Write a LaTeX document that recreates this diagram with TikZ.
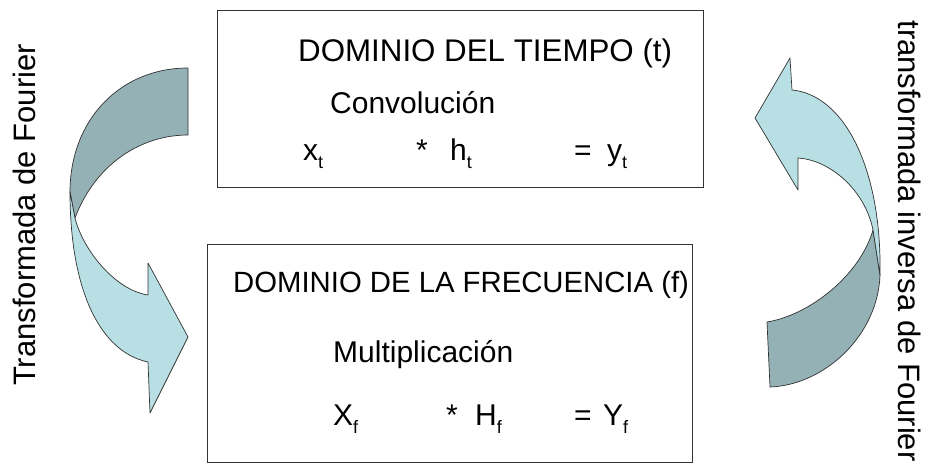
\documentclass[tikz,border=0pt]{standalone}
\usepackage{fontspec}
\setmainfont{Liberation Sans}
\definecolor{darkteal}{RGB}{148,178,182}
\definecolor{lightteal}{RGB}{184,223,227}
\definecolor{edge}{RGB}{50,50,50}
\newcommand\mysub[1]{\raisebox{-8pt}{\fontsize{18}{18}\selectfont #1}}
\begin{document}
\begin{tikzpicture}[x=1pt,y=-1pt,
  panel/.style={draw=edge, line width=0.9pt, inner sep=0pt, anchor=north west},
  lbl/.style={inner sep=0pt, anchor=base west, font=\fontsize{30}{36}\selectfont},
  side/.style={inner sep=0pt, font=\fontsize{31}{36}\selectfont},
  darkband/.style={fill=darkteal, draw=edge, line width=0.7pt, line join=round},
  lightband/.style={fill=lightteal, draw=edge, line width=0.7pt, line join=round}]
\useasboundingbox (0,0) rectangle (935,466);
% boxes
\node[panel, minimum width=486pt, minimum height=177pt] (tbox) at (217,10) {};
\node[panel, minimum width=485pt, minimum height=218pt] (fbox) at (207,244) {};
% top box text
\node[lbl, font=\fontsize{31.3}{36}\selectfont] (th) at (298,61) {DOMINIO DEL TIEMPO (t)};
\node[lbl] (conv) at (330,113) {Convolución};
\node[lbl] (xt) at (303,160) {x\mysub{t}};
\node[lbl] (st) at (416,160) {*};
\node[lbl] (ht) at (450,160) {h\mysub{t}};
\node[lbl] (et) at (574,160) {=};
\node[lbl] (yt) at (607,160) {y\mysub{t}};
% bottom box text
\node[lbl, font=\fontsize{29.3}{36}\selectfont] (fh) at (233,292) {DOMINIO DE LA FRECUENCIA (f)};
\node[lbl] (mult) at (333,362) {Multiplicación};
\node[lbl] (xf) at (333,425) {X\mysub{f}};
\node[lbl] (sf) at (446,425) {*};
\node[lbl] (hf) at (475,425) {H\mysub{f}};
\node[lbl] (ef) at (574,425) {=};
\node[lbl] (yf) at (603,425) {Y\mysub{f}};
% side labels
\node[side, rotate=90] (lt) at (24,215) {Transformada de Fourier};
\node[side, rotate=-90] (rt) at (910,241) {transformada inversa de Fourier};
% left curved arrow
\draw[darkband] (188,68) .. controls (120,68) and (70,120) .. (70,192)
  -- (75,218) .. controls (95,165) and (140,135) .. (188,135) -- cycle;
\draw[lightband] (70,192) .. controls (70,290) and (100,352) .. (148,362)
  -- (150,413) -- (188,337) -- (148,263) -- (148,295)
  .. controls (115,290) and (83,250) .. (75,218) -- cycle;
% right curved arrow
\draw[darkband] (770,387) .. controls (825,385) and (878,335) .. (880,275)
  -- (873,230) .. controls (860,275) and (810,315) .. (767,322) -- cycle;
\draw[lightband] (880,275) .. controls (882,170) and (845,95) .. (792,90)
  -- (790,58) -- (755,118) -- (798,190) -- (798,158)
  .. controls (830,160) and (865,190) .. (873,230) -- cycle;
\end{tikzpicture}
\end{document}
